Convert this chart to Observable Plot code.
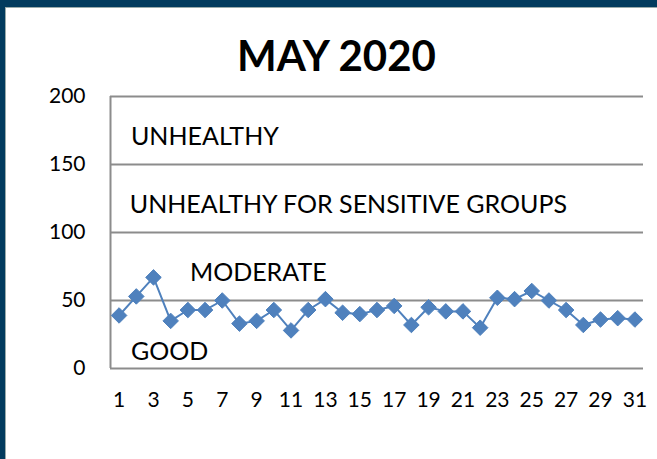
<!DOCTYPE html>
<html><head><meta charset="utf-8">
<script src="https://cdn.jsdelivr.net/npm/d3@7"></script>
<script src="https://cdn.jsdelivr.net/npm/@observablehq/plot@0.6"></script>
<style>
html,body{margin:0;padding:0;background:#023b5e;width:657px;height:459px;overflow:hidden;}
#frame{position:absolute;left:5px;top:7px;width:651px;height:451px;background:#fff;border-left:1px solid #9aa;border-top:1px solid #9aa;}
#title{position:absolute;left:0;top:27px;width:673px;text-align:center;font-family:Lato,sans-serif;font-weight:bold;font-size:42px;color:#000;line-height:56px;}
#chart{position:absolute;left:0;top:80px;}
</style></head>
<body>
<div id="frame"></div>
<div id="title">MAY 2020</div>
<div id="chart"></div>
<script>
const days = d3.range(1, 32);
const aqi = [39,53,67,35,43,43,50,33,35,43,28,43,51,41,40,43,46,32,45,42,42,30,52,51,57,50,43,32,36,37,36];
const yTicks = [0,50,100,150,200];
const xTickLabels = days.filter(d => d % 2 === 1);
const zoneLabels = ["UNHEALTHY","UNHEALTHY FOR SENSITIVE GROUPS","MODERATE","GOOD"];
const zoneDay = [1.69,1.62,5.12,1.69];
const zoneValue = [170,120,70,12];

const data = days.map((d,i)=>({day:d, v:aqi[i]}));
const zones = zoneLabels.map((t,i)=>({t, day:zoneDay[i], v:zoneValue[i]}));

const chart = Plot.plot({
  width: 657, height: 340,
  marginTop: 16, marginBottom: 52, marginLeft: 110, marginRight: 14,
  style: {fontFamily: "Lato, sans-serif", background: "transparent", overflow: "visible"},
  x: {type: "linear", domain: [0.5, 31.5], label: null},
  y: {domain: [0,200], label: null},
  marks: [
    Plot.ruleY(yTicks, {stroke: "#8c8c8c", strokeWidth: 2}),
    Plot.ruleX([0.5], {y1: 0, y2: 200, stroke: "#8c8c8c", strokeWidth: 2}),
    Plot.axisY({ticks: yTicks, tickSize: 0, tickPadding: 25, fontSize: 21, fill: "#000", label: null}),
    Plot.axisX({ticks: xTickLabels, tickFormat: d => String(d), tickSize: 0, tickPadding: 24, fontSize: 21, fill: "#000", label: null}),
    Plot.text(zones, {x: "day", y: "v", text: "t", textAnchor: "start", fontSize: 25, fill: "#000"}),
    Plot.line(data, {x: "day", y: "v", stroke: "#4f81bd", strokeWidth: 2}),
    Plot.dot(data, {x: "day", y: "v", symbol: "diamond2", r: 7, fill: "#4f81bd", stroke: "#4f81bd", strokeWidth: 1})
  ]
});
document.getElementById("chart").appendChild(chart);
</script>
</body></html>
